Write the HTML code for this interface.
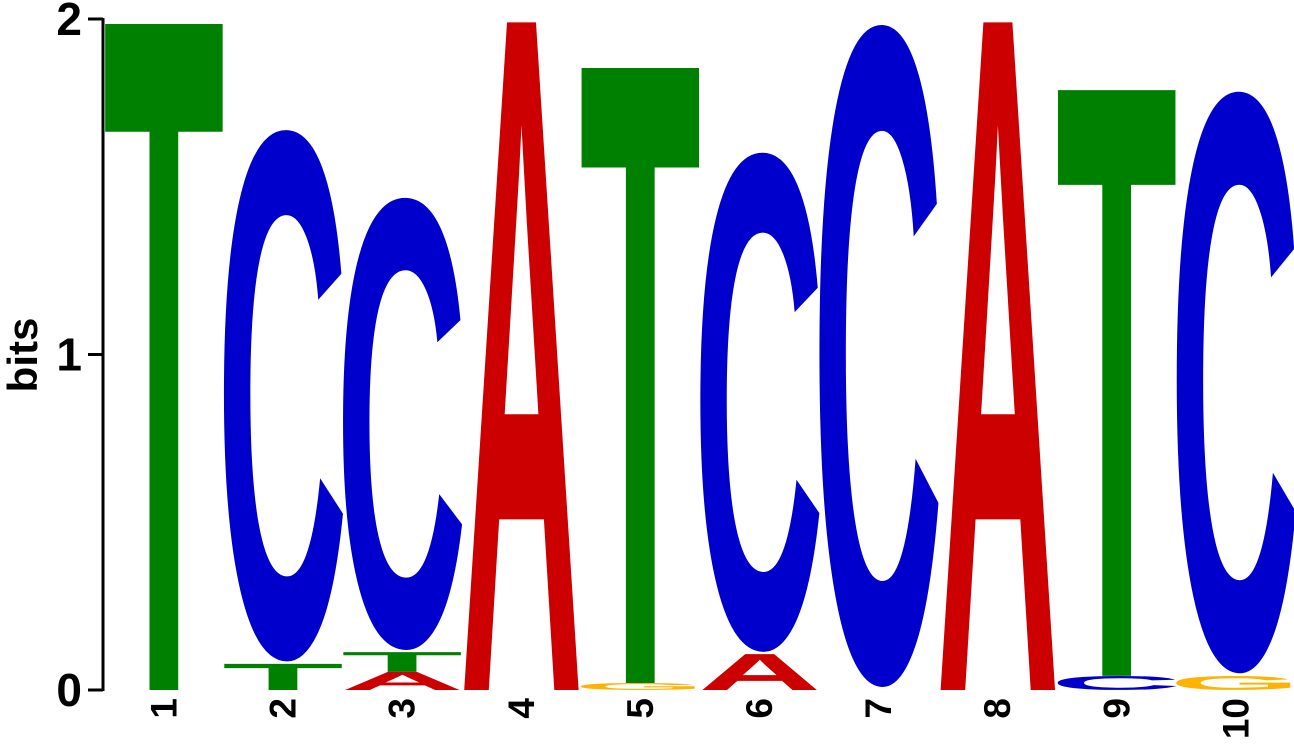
<!DOCTYPE html>
<html><head><meta charset="utf-8"><style>
html,body{margin:0;background:#fff;overflow:hidden;width:1294px;height:748px;}
svg{display:block;font-family:"Liberation Sans",sans-serif;}
</style></head><body>
<svg id="logo" width="1294" height="748">
<g id="axis">
<line x1="103" y1="18" x2="103" y2="691" stroke="#000" stroke-width="3"/>
</g>
<g id="marks"></g>
<g id="xticks"></g>
<text transform="translate(37,355) rotate(-90)" text-anchor="middle" font-weight="bold" font-size="42">bits</text>
</svg>
<script>
const positions=["1","2","3","4","5","6","7","8","9","10"];
const letters=[["T"],["T","C"],["A","T","C"],["A"],["G","T"],["A","C"],["C"],["A"],["C","T"],["G","C"]];
const heights=[[1.985],[0.078,1.597],[0.054,0.059,1.359],[1.99],[0.021,1.833],[0.107,1.5],[1.99],[1.99],[0.042,1.746],[0.042,1.748]];
const yTicks=[0,1,2];
const colors={A:"#cc0000",C:"#0000cc",G:"#ffb300",T:"#008000"};
const fill={A:0.95,C:0.89,G:0.89,T:0.96};
const offs={A:0.019,C:0.058,G:0.058,T:0.017};
const ns="http://www.w3.org/2000/svg";
const y0=690,pxPerBit=335.5,x0=105,colW=119.1,glyphW=117;
const Y=v=>y0-v*pxPerBit;
const X=i=>x0+i*colW;
const marks=document.getElementById('marks');
const capH=0.688,ov=0.013,fs=100;
letters.forEach((col,i)=>{
  let cum=0;
  col.forEach((L,j)=>{
    const h=heights[i][j];
    const round=(L==="C"||L==="G");
    const eff=round?capH+2*ov:capH;
    const sy=(h*pxPerBit)/(eff*fs);
    const shift=round?ov*fs*sy:0;
    const w=glyphW/fill[L];
    const t=document.createElementNS(ns,'text');
    
    
    t.setAttribute('x',0);t.setAttribute('y',0);
    t.setAttribute('font-size',fs);t.setAttribute('font-weight','bold');
    t.setAttribute('textLength',w);t.setAttribute('lengthAdjust','spacingAndGlyphs');
    t.setAttribute('fill',colors[L]);
    t.setAttribute('transform','translate('+(X(i)-offs[L]*w)+','+(Y(cum)-shift)+') scale(1,'+sy+')');
    t.textContent=L;
    marks.appendChild(t);
    cum+=h;
  });
});
const xt=document.getElementById('xticks');
positions.forEach((p,i)=>{
  const t=document.createElementNS(ns,'text');
  
  
  const cx=X(i)+glyphW/2+13;
  t.setAttribute('transform','translate('+cx+',698) rotate(-90)');
  t.setAttribute('text-anchor','end');t.setAttribute('font-size','37');t.setAttribute('font-weight','bold');
  t.textContent=p;xt.appendChild(t);
});
const ax=document.getElementById('axis');
yTicks.forEach(v=>{
  const l=document.createElementNS(ns,'line');
  
  
  l.setAttribute('x1',88);l.setAttribute('x2',103);l.setAttribute('y1',Y(v));l.setAttribute('y2',Y(v));
  l.setAttribute('stroke','#000');l.setAttribute('stroke-width',3);ax.appendChild(l);
  const t=document.createElementNS(ns,'text');
  
  
  t.setAttribute('x',82);t.setAttribute('y',Y(v)+16);t.setAttribute('text-anchor','end');
  t.setAttribute('font-size','46');t.setAttribute('font-weight','bold');
  t.textContent=v;ax.appendChild(t);
});
</script>
</body></html>
